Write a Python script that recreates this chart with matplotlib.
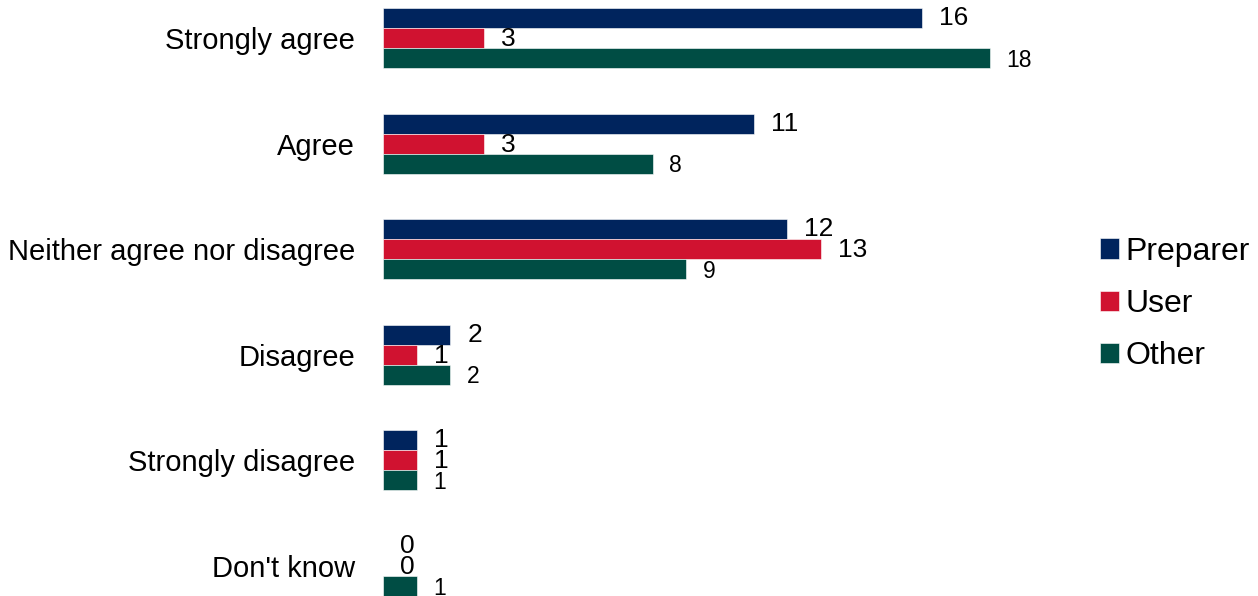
import numpy as np
import matplotlib.pyplot as plt

plt.rcParams['font.family'] = ['Liberation Sans', 'DejaVu Sans']

# survey answers and counts per respondent group
categories = ["Strongly agree", "Agree", "Neither agree nor disagree",
              "Disagree", "Strongly disagree", "Don't know"]
preparer = [16, 11, 12, 2, 1, 0]
user = [3, 3, 13, 1, 1, 0]
other = [18, 8, 9, 2, 1, 1]

series = [("Preparer", preparer, "#00245D", 19, 0.0),
          ("User", user, "#D01230", 19, 0.01),
          ("Other", other, "#004D44", 16.5, 0.02)]

fig = plt.figure(figsize=(12.58, 5.96), dpi=100)
ax = fig.add_axes([383 / 1258, 0, 674 / 1258, 1])

y = np.arange(len(categories))
h = 0.19
for k, (name, vals, color, fs, dy) in enumerate(series):
    pos = y + (k - 1) * h
    ax.barh(pos, vals, height=h, color=color, label=name,
            edgecolor="white", linewidth=0.4)
    for p, v in zip(pos, vals):
        ax.text(v + 0.5, p + dy, str(v), va="center", ha="left",
                fontsize=fs, color="black")

ax.set_xlim(0, 20)
ax.set_ylim(5 + 30 / 105.6, -38 / 105.6)
ax.set_yticks(y)
ax.set_yticklabels(categories, fontsize=21)
ax.tick_params(axis="y", length=0, pad=20)
ax.set_xticks([])
for s in ax.spines.values():
    s.set_visible(False)

fig.legend(loc="center left", bbox_to_anchor=(1087 / 1258, 1 - 304 / 596),
           frameon=False, fontsize=23, handlelength=0.6, handleheight=0.6,
           handletextpad=0.2, labelspacing=0.7, borderaxespad=0)

fig.savefig("out.png", dpi=100)
